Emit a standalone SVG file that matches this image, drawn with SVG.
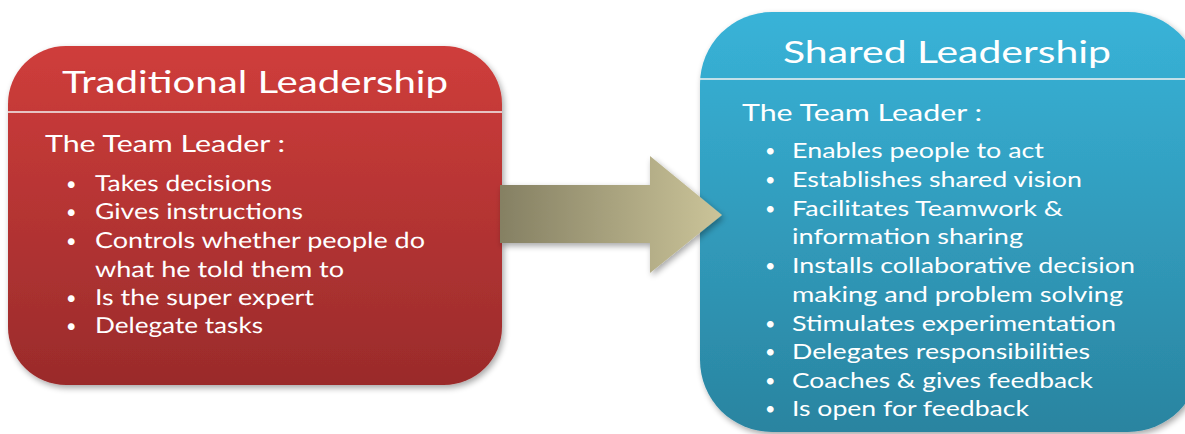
<svg xmlns="http://www.w3.org/2000/svg" width="1185" height="434" viewBox="0 0 1185 434">
  <defs>
    <linearGradient id="redFill" x1="0" y1="0" x2="0" y2="1">
      <stop offset="0" stop-color="#cf3d3b"/>
      <stop offset="1" stop-color="#9a2b2b"/>
    </linearGradient>
    <linearGradient id="blueFill" x1="0" y1="0" x2="0" y2="1">
      <stop offset="0" stop-color="#38b3d8"/>
      <stop offset="1" stop-color="#2a84a0"/>
    </linearGradient>
    <linearGradient id="arrowFill" x1="0" y1="0" x2="1" y2="0">
      <stop offset="0" stop-color="#858063"/>
      <stop offset="1" stop-color="#cbc499"/>
    </linearGradient>
    <filter id="shadow" x="-10%" y="-10%" width="125%" height="125%">
      <feGaussianBlur in="SourceAlpha" stdDeviation="3"/>
      <feOffset dx="2" dy="3" result="b"/>
      <feComponentTransfer><feFuncA type="linear" slope="0.35"/></feComponentTransfer>
      <feMerge><feMergeNode/><feMergeNode in="SourceGraphic"/></feMerge>
    </filter>
    <style>
      text { font-family: Lato, "Liberation Sans", sans-serif; fill: #ffffff; }
      .title { font-size: 30px; }
      .lead { font-size: 23px; }
      .item { font-size: 22px; }
      .bullet { font-size: 18px; }
      .divider { stroke: #f2f2f2; stroke-width: 1.5; }
    </style>
  </defs>

  <!-- left node -->
  <g id="traditional">
    <rect x="8" y="46" width="494" height="339" rx="58" ry="58" fill="url(#redFill)" filter="url(#shadow)"/>
    <line class="divider" x1="8" y1="112" x2="502" y2="112"/>
    <text class="title" x="62" y="93" textLength="386" lengthAdjust="spacingAndGlyphs">Traditional Leadership</text>
    <text class="lead" x="45" y="152" textLength="240" lengthAdjust="spacingAndGlyphs">The Team Leader :</text>
    <g class="item" text-rendering="geometricPrecision">
      <text class="bullet" x="66" y="190">•</text><text class="item" x="95" y="191" textLength="177" lengthAdjust="spacingAndGlyphs">Takes decisions</text>
      <text class="bullet" x="66" y="218">•</text><text class="item" x="95" y="219" textLength="208" lengthAdjust="spacingAndGlyphs">Gives instructions</text>
      <text class="bullet" x="66" y="247">•</text><text class="item" x="95" y="248" textLength="330" lengthAdjust="spacingAndGlyphs">Controls whether people do</text>
      <text class="item" x="95" y="277" textLength="249" lengthAdjust="spacingAndGlyphs">what he told them to</text>
      <text class="bullet" x="66" y="304">•</text><text class="item" x="95" y="305" textLength="219" lengthAdjust="spacingAndGlyphs">Is the super expert</text>
      <text class="bullet" x="66" y="332">•</text><text class="item" x="95" y="333" textLength="168" lengthAdjust="spacingAndGlyphs">Delegate tasks</text>
    </g>
  </g>

  <!-- right node -->
  <g id="shared">
    <rect x="700" y="12" width="500" height="420" rx="72" ry="72" fill="url(#blueFill)" filter="url(#shadow)"/>
    <line class="divider" x1="700" y1="79" x2="1185" y2="79"/>
    <text class="title" x="783" y="63" textLength="328" lengthAdjust="spacingAndGlyphs">Shared  Leadership</text>
    <text class="lead" x="742" y="121" textLength="240" lengthAdjust="spacingAndGlyphs">The Team Leader :</text>
    <g>
      <text class="bullet" x="765" y="157">•</text><text class="item" x="792" y="158" textLength="252" lengthAdjust="spacingAndGlyphs">Enables people to act</text>
      <text class="bullet" x="765" y="186">•</text><text class="item" x="792" y="187" textLength="290" lengthAdjust="spacingAndGlyphs">Establishes shared vision</text>
      <text class="bullet" x="765" y="215">•</text><text class="item" x="792" y="216" textLength="271" lengthAdjust="spacingAndGlyphs">Facilitates Teamwork &amp;</text>
      <text class="item" x="792" y="244" textLength="231" lengthAdjust="spacingAndGlyphs">information sharing</text>
      <text class="bullet" x="765" y="272">•</text><text class="item" x="792" y="273" textLength="343" lengthAdjust="spacingAndGlyphs">Installs collaborative decision</text>
      <text class="item" x="792" y="302" textLength="331" lengthAdjust="spacingAndGlyphs">making and problem solving</text>
      <text class="bullet" x="765" y="330">•</text><text class="item" x="792" y="331" textLength="324" lengthAdjust="spacingAndGlyphs">Stimulates experimentation</text>
      <text class="bullet" x="765" y="358">•</text><text class="item" x="792" y="359" textLength="298" lengthAdjust="spacingAndGlyphs">Delegates responsibilities</text>
      <text class="bullet" x="765" y="387">•</text><text class="item" x="792" y="388" textLength="301" lengthAdjust="spacingAndGlyphs">Coaches &amp; gives feedback</text>
      <text class="bullet" x="765" y="415">•</text><text class="item" x="792" y="416" textLength="237" lengthAdjust="spacingAndGlyphs">Is open  for feedback</text>
    </g>
  </g>

  <!-- connector drawn over both nodes -->
  <g id="connectors">
    <path d="M500 185 H650 V156 L722 215 L650 273 V243 H500 Z" fill="url(#arrowFill)" filter="url(#shadow)"/>
  </g>
</svg>
